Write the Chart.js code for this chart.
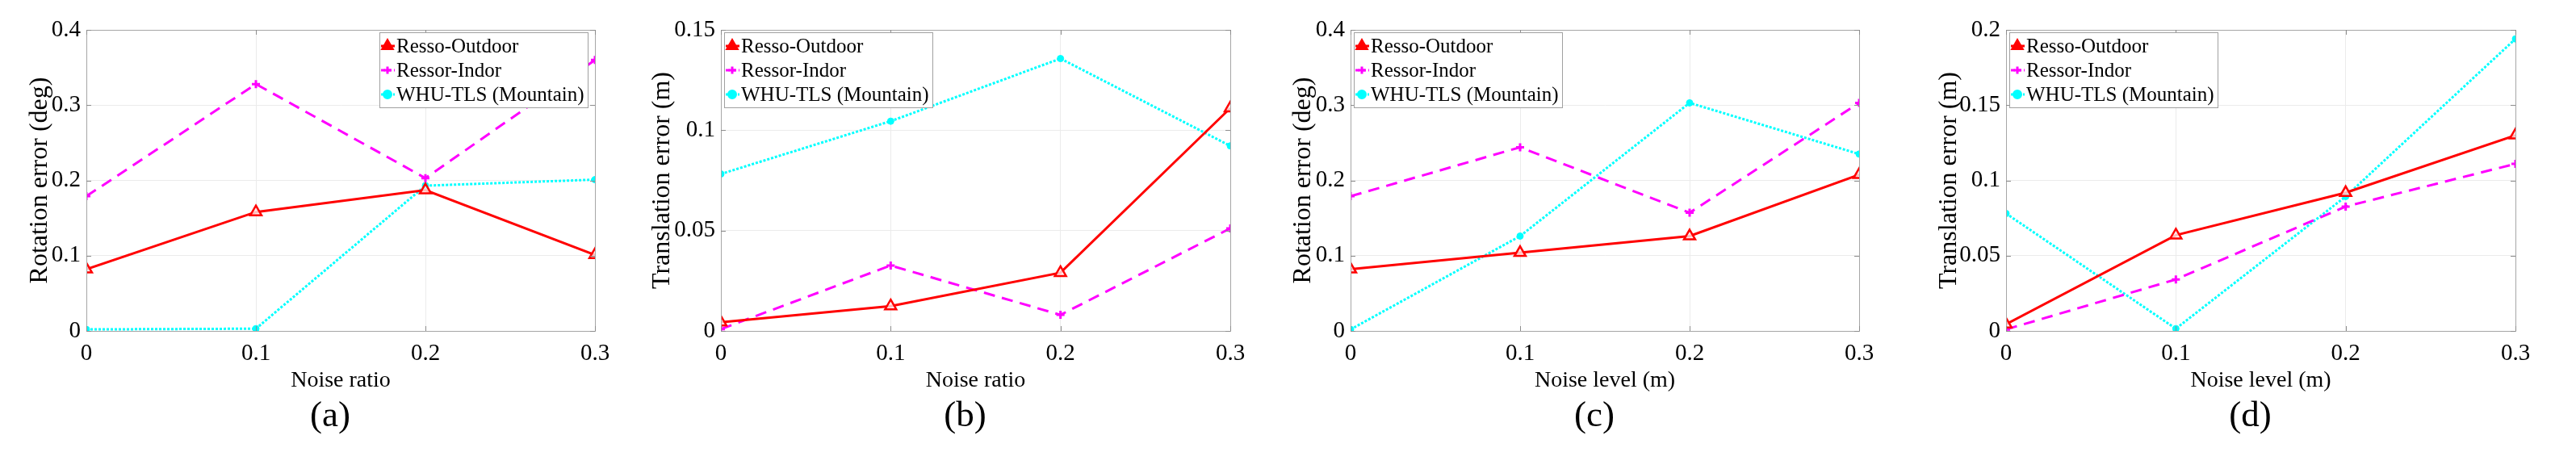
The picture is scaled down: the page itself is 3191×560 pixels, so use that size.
<!DOCTYPE html>
<html>
<head>
<meta charset="utf-8">
<script src="https://cdn.jsdelivr.net/npm/chart.js@4.4.1/dist/chart.umd.min.js"></script>
<style>
  body { margin: 0; background: #fff; width: 3191px; height: 560px; overflow: hidden; }
  .panel { position: absolute; top: 0; height: 560px; }
</style>
</head>
<body>
<div class="panel" id="pa" style="left:0px;width:777px"><canvas id="ca"></canvas></div>
<div class="panel" id="pb" style="left:786px;width:778px"><canvas id="cb"></canvas></div>
<div class="panel" id="pc" style="left:1566px;width:777px"><canvas id="cc"></canvas></div>
<div class="panel" id="pd" style="left:2378px;width:778px"><canvas id="cd"></canvas></div>
<script>
const seriesNames = ["Resso-Outdoor", "Ressor-Indor", "WHU-TLS (Mountain)"];
const noiseSteps = [0, 0.1, 0.2, 0.3];

// (a) rotation error vs noise ratio
const rotRatioOutdoor = [0.082, 0.158, 0.187, 0.101];
const rotRatioIndor = [0.179, 0.328, 0.203, 0.360];
const rotRatioWhu = [0.002, 0.003, 0.193, 0.201];

// (b) translation error vs noise ratio
const transRatioOutdoor = [0.0043, 0.0124, 0.029, 0.111];
const transRatioIndor = [0.0009, 0.0326, 0.008, 0.0511];
const transRatioWhu = [0.0782, 0.1045, 0.1357, 0.0922];

// (c) rotation error vs noise level
const rotLevelOutdoor = [0.082, 0.104, 0.126, 0.2075];
const rotLevelIndor = [0.179, 0.244, 0.157, 0.303];
const rotLevelWhu = [0.002, 0.126, 0.303, 0.235];

// (d) translation error vs noise level
const transLevelOutdoor = [0.0044, 0.0636, 0.0918, 0.130];
const transLevelIndor = [0.001, 0.0342, 0.0826, 0.111];
const transLevelWhu = [0.078, 0.0015, 0.0893, 0.194];

const serif = "'Liberation Serif', 'Times New Roman', serif";
const colors = ["#ff0000", "#ff00ff", "#00ffff"];

function makeSets(outdoor, indor, whu) {
  const pts = arr => arr.map((v, i) => ({ x: noiseSteps[i], y: v }));
  return [
    { label: seriesNames[0], data: pts(outdoor), borderColor: colors[0], backgroundColor: "#fff",
      borderWidth: 3, pointStyle: "triangle", pointRadius: 8, pointBorderWidth: 2.5,
      pointBackgroundColor: "rgba(255,235,235,0.8)", pointBorderColor: colors[0] },
    { label: seriesNames[1], data: pts(indor), borderColor: colors[1], backgroundColor: colors[1],
      borderWidth: 3, borderDash: [14, 9], pointStyle: "cross", pointRadius: 5, pointBorderWidth: 3,
      pointBorderColor: colors[1] },
    { label: seriesNames[2], data: pts(whu), borderColor: colors[2], backgroundColor: colors[2],
      borderWidth: 3, borderDash: [3, 2], pointStyle: "circle", pointRadius: 4, pointBorderWidth: 1,
      pointBackgroundColor: colors[2], pointBorderColor: colors[2] }
  ];
}

// frame with inward ticks, in-plot legend and the (a)/(b) caption
const decorations = {
  id: "decorations",
  afterDraw(chart, args, opts) {
    const { ctx, chartArea: a, scales } = chart;
    ctx.save();
    ctx.strokeStyle = "#a6a6a6";
    ctx.lineWidth = 1;
    ctx.strokeRect(a.left + 0.5, a.top + 0.5, a.right - a.left, a.bottom - a.top);
    ctx.strokeStyle = "#8c8c8c";
    ctx.beginPath();
    scales.x.ticks.forEach(t => {
      const px = Math.round(scales.x.getPixelForValue(t.value)) + 0.5;
      ctx.moveTo(px, a.bottom); ctx.lineTo(px, a.bottom - 6);
      ctx.moveTo(px, a.top); ctx.lineTo(px, a.top + 6);
    });
    scales.y.ticks.forEach(t => {
      const py = Math.round(scales.y.getPixelForValue(t.value)) + 0.5;
      ctx.moveTo(a.left, py); ctx.lineTo(a.left + 6, py);
      ctx.moveTo(a.right, py); ctx.lineTo(a.right - 6, py);
    });
    ctx.stroke();

    const w = 258, h = 93;
    const x0 = opts.corner === "ne" ? a.right - 9 - w : a.left + 4;
    const y0 = a.top + 3;
    ctx.fillStyle = "#fff";
    ctx.fillRect(x0, y0, w, h);
    ctx.strokeStyle = "#a0a0a0";
    ctx.strokeRect(x0 + 0.5, y0 + 0.5, w, h);
    chart.data.datasets.forEach((ds, i) => {
      const y = y0 + 17 + i * 30;
      ctx.strokeStyle = ds.borderColor;
      ctx.lineWidth = 3;
      ctx.setLineDash(i === 1 ? [5, 3] : i === 2 ? [3, 2] : []);
      ctx.beginPath();
      ctx.moveTo(x0 + 2, y);
      ctx.lineTo(x0 + 19, y);
      ctx.stroke();
      ctx.setLineDash([]);
      ctx.fillStyle = ds.borderColor;
      Chart.helpers.drawPoint(ctx, { pointStyle: ds.pointStyle, radius: i === 0 ? 7 : 4.5, rotation: 0,
        borderWidth: i === 1 ? 3 : 1 }, x0 + 10, y);
      ctx.fillStyle = "#000";
      ctx.font = "25px " + serif;
      ctx.textBaseline = "middle";
      ctx.textAlign = "left";
      ctx.fillText(ds.label, x0 + 21, y + 1);
    });

    ctx.fillStyle = "#000";
    ctx.font = "45px " + serif;
    ctx.textAlign = "center";
    ctx.textBaseline = "middle";
    ctx.fillText(opts.caption, (a.left + a.right) / 2 - 13, 516);
    ctx.restore();
  }
};

function makeChart(id, sets, yMax, yStep, yTitle, xTitle, caption, corner, yTitlePad) {
  return new Chart(document.getElementById(id), {
    type: "line",
    data: { datasets: sets },
    plugins: [decorations],
    options: {
      responsive: true,
      maintainAspectRatio: false,
      animation: false,
      layout: { padding: { top: 37, right: 40, bottom: 0, left: 0 } },
      plugins: {
        legend: { display: false },
        tooltip: { enabled: false },
        decorations: { caption: caption, corner: corner }
      },
      scales: {
        x: {
          type: "linear", min: 0, max: 0.3,
          afterFit: s => { s.height = 150; },
          ticks: { stepSize: 0.1, color: "#000", font: { family: serif, size: 29 }, padding: 11,
                   callback: v => String(+v.toFixed(2)) },
          grid: { color: "#ebebeb", drawTicks: false },
          border: { color: "#a6a6a6" },
          title: { display: true, text: xTitle, color: "#000", font: { family: serif, size: 28 },
                   padding: { top: 0, bottom: 72 } }
        },
        y: {
          min: 0, max: yMax,
          afterFit: s => { s.width = 107; },
          ticks: { stepSize: yStep, color: "#000", font: { family: serif, size: 29 }, padding: 7,
                   callback: v => String(+v.toFixed(2)) },
          grid: { color: "#ebebeb", drawTicks: false },
          border: { color: "#a6a6a6" },
          title: { display: true, text: yTitle, color: "#000", font: { family: serif, size: 32 },
                   padding: { top: yTitlePad, bottom: 0 } }
        }
      }
    }
  });
}

makeChart("ca", makeSets(rotRatioOutdoor, rotRatioIndor, rotRatioWhu), 0.4, 0.1,
  "Rotation error (deg)", "Noise ratio", "(a)", "ne", 30);
makeChart("cb", makeSets(transRatioOutdoor, transRatioIndor, transRatioWhu), 0.15, 0.05,
  "Translation error (m)", "Noise ratio", "(b)", "nw", 15);
makeChart("cc", makeSets(rotLevelOutdoor, rotLevelIndor, rotLevelWhu), 0.4, 0.1,
  "Rotation error (deg)", "Noise level (m)", "(c)", "nw", 29);
makeChart("cd", makeSets(transLevelOutdoor, transLevelIndor, transLevelWhu), 0.2, 0.05,
  "Translation error (m)", "Noise level (m)", "(d)", "nw", 17);
</script>
</body>
</html>
